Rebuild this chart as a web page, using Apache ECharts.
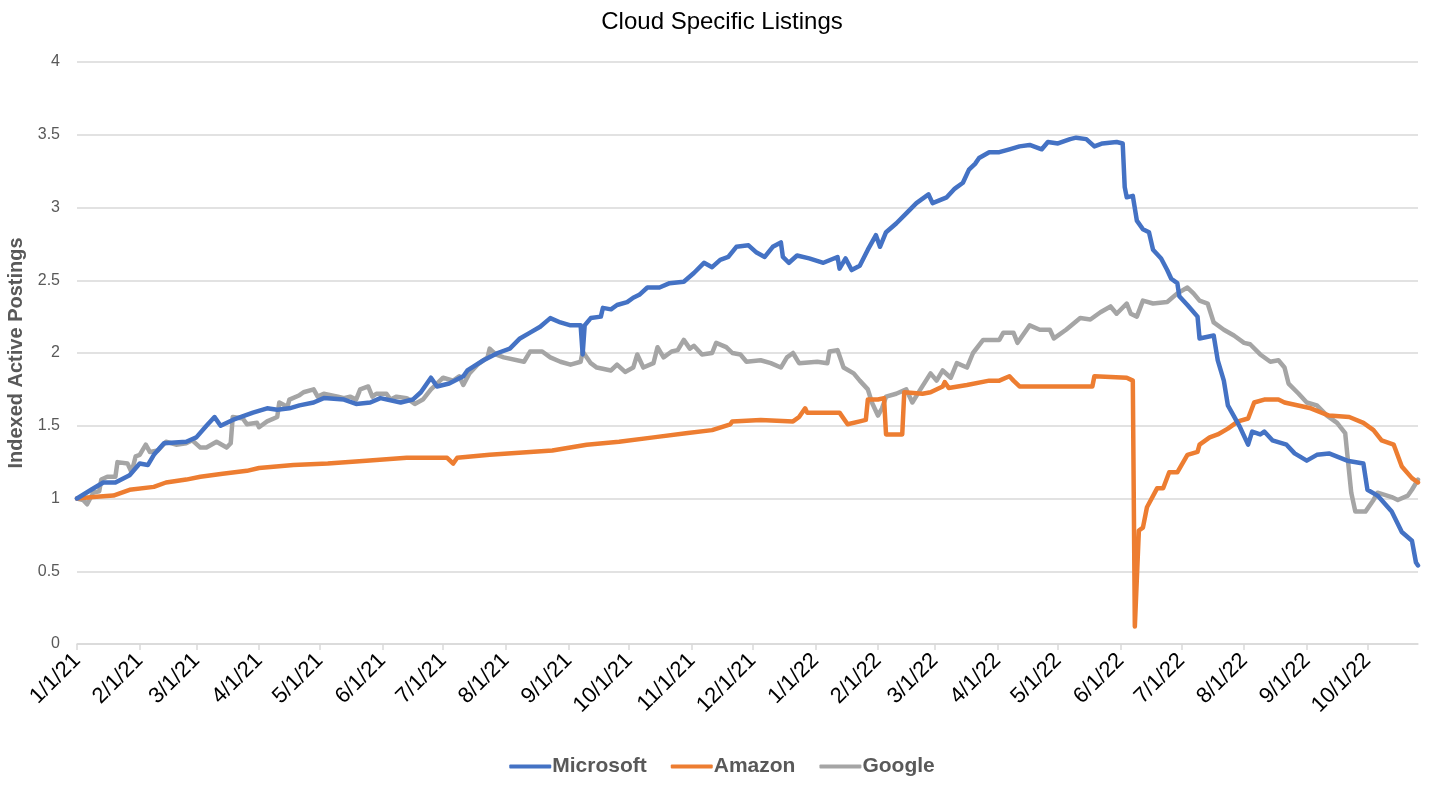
<!DOCTYPE html>
<html>
<head>
<meta charset="utf-8">
<script src="https://cdn.jsdelivr.net/npm/echarts@6/dist/echarts.min.js"></script>
<style>
html,body{margin:0;padding:0;background:#fff;}
#chart{width:1444px;height:788px;}
</style>
</head>
<body>
<div id="chart"></div>
<script>
// ---- Data ----
const firstDay = '2021-01-01';
const lastDay = '2022-10-26';
const seriesNames = ['Microsoft', 'Amazon', 'Google'];
const yTicks = [0, 0.5, 1, 1.5, 2, 2.5, 3, 3.5, 4];

const msDates = ['2021-01-01','2021-01-08','2021-01-14','2021-01-20','2021-01-27','2021-02-01','2021-02-05','2021-02-08','2021-02-13','2021-02-24','2021-03-01','2021-03-06','2021-03-10','2021-03-13','2021-03-19','2021-03-29','2021-04-05','2021-04-10','2021-04-16','2021-04-21','2021-04-28','2021-05-03','2021-05-13','2021-05-19','2021-05-26','2021-05-31','2021-06-10','2021-06-16','2021-06-20','2021-06-25','2021-06-28','2021-07-04','2021-07-11','2021-07-13','2021-07-21','2021-07-28','2021-08-03','2021-08-08','2021-08-13','2021-08-18','2021-08-23','2021-08-28','2021-09-02','2021-09-07','2021-09-08','2021-09-09','2021-09-12','2021-09-17','2021-09-18','2021-09-22','2021-09-25','2021-09-30','2021-10-03','2021-10-06','2021-10-10','2021-10-16','2021-10-21','2021-10-28','2021-11-02','2021-11-07','2021-11-11','2021-11-15','2021-11-19','2021-11-23','2021-11-29','2021-12-03','2021-12-07','2021-12-11','2021-12-15','2021-12-16','2021-12-19','2021-12-23','2021-12-29','2022-01-05','2022-01-12','2022-01-13','2022-01-16','2022-01-19','2022-01-23','2022-01-27','2022-01-31','2022-02-02','2022-02-05','2022-02-10','2022-02-15','2022-02-20','2022-02-26','2022-02-28','2022-03-07','2022-03-11','2022-03-15','2022-03-18','2022-03-21','2022-03-23','2022-03-28','2022-04-02','2022-04-07','2022-04-12','2022-04-17','2022-04-23','2022-04-26','2022-05-01','2022-05-07','2022-05-10','2022-05-15','2022-05-19','2022-05-23','2022-05-30','2022-06-02','2022-06-03','2022-06-04','2022-06-07','2022-06-09','2022-06-12','2022-06-15','2022-06-17','2022-06-21','2022-06-24','2022-06-26','2022-06-29','2022-06-30','2022-07-04','2022-07-09','2022-07-10','2022-07-17','2022-07-19','2022-07-22','2022-07-24','2022-07-30','2022-08-03','2022-08-05','2022-08-09','2022-08-11','2022-08-15','2022-08-22','2022-08-26','2022-09-01','2022-09-06','2022-09-12','2022-09-21','2022-09-29','2022-10-01','2022-10-06','2022-10-13','2022-10-18','2022-10-23','2022-10-25','2022-10-26'];
const msValues = [1.00,1.06,1.11,1.11,1.16,1.24,1.23,1.30,1.38,1.39,1.42,1.50,1.56,1.50,1.54,1.59,1.62,1.61,1.62,1.64,1.66,1.69,1.68,1.65,1.66,1.69,1.66,1.68,1.73,1.83,1.77,1.79,1.84,1.88,1.95,2.00,2.03,2.10,2.14,2.18,2.24,2.21,2.19,2.19,1.99,2.19,2.24,2.25,2.31,2.30,2.33,2.35,2.38,2.40,2.45,2.45,2.48,2.49,2.55,2.62,2.59,2.64,2.66,2.73,2.74,2.69,2.66,2.73,2.76,2.66,2.62,2.67,2.65,2.62,2.66,2.58,2.65,2.57,2.60,2.71,2.81,2.73,2.83,2.89,2.96,3.03,3.09,3.03,3.07,3.13,3.17,3.26,3.30,3.34,3.38,3.38,3.40,3.42,3.43,3.40,3.45,3.44,3.47,3.48,3.47,3.42,3.44,3.45,3.44,3.14,3.07,3.08,2.91,2.85,2.83,2.71,2.65,2.57,2.51,2.48,2.39,2.33,2.25,2.10,2.12,1.95,1.81,1.64,1.49,1.37,1.46,1.44,1.46,1.40,1.37,1.31,1.26,1.30,1.31,1.26,1.24,1.06,1.02,0.91,0.77,0.71,0.56,0.54];

const amDates = ['2021-01-01','2021-01-09','2021-01-19','2021-01-27','2021-02-08','2021-02-14','2021-02-24','2021-03-03','2021-03-14','2021-03-26','2021-04-01','2021-04-18','2021-05-05','2021-05-24','2021-06-13','2021-07-03','2021-07-06','2021-07-08','2021-07-24','2021-08-13','2021-08-24','2021-09-10','2021-09-26','2021-10-13','2021-10-30','2021-11-11','2021-11-20','2021-11-21','2021-12-05','2021-12-21','2021-12-24','2021-12-27','2021-12-28','2022-01-13','2022-01-17','2022-01-23','2022-01-26','2022-01-27','2022-02-01','2022-02-04','2022-02-05','2022-02-13','2022-02-14','2022-02-23','2022-02-27','2022-03-05','2022-03-06','2022-03-08','2022-03-17','2022-03-28','2022-04-02','2022-04-07','2022-04-09','2022-04-12','2022-05-18','2022-05-19','2022-06-04','2022-06-07','2022-06-08','2022-06-10','2022-06-12','2022-06-14','2022-06-19','2022-06-22','2022-06-25','2022-06-29','2022-07-04','2022-07-09','2022-07-10','2022-07-15','2022-07-19','2022-07-24','2022-07-29','2022-08-03','2022-08-06','2022-08-11','2022-08-18','2022-08-21','2022-09-03','2022-09-12','2022-09-22','2022-09-29','2022-10-04','2022-10-08','2022-10-14','2022-10-18','2022-10-23','2022-10-26'];
const amValues = [1.00,1.01,1.02,1.06,1.08,1.11,1.13,1.15,1.17,1.19,1.21,1.23,1.24,1.26,1.28,1.28,1.24,1.28,1.30,1.32,1.33,1.37,1.39,1.42,1.45,1.47,1.51,1.53,1.54,1.53,1.56,1.62,1.59,1.59,1.51,1.53,1.54,1.68,1.68,1.69,1.44,1.44,1.73,1.72,1.73,1.77,1.80,1.76,1.78,1.81,1.81,1.84,1.81,1.77,1.77,1.84,1.83,1.81,0.12,0.78,0.80,0.94,1.07,1.07,1.18,1.18,1.30,1.32,1.37,1.42,1.44,1.48,1.53,1.55,1.66,1.68,1.68,1.66,1.62,1.57,1.56,1.52,1.47,1.40,1.37,1.22,1.14,1.11];

const goDates = ['2021-01-01','2021-01-04','2021-01-06','2021-01-09','2021-01-12','2021-01-13','2021-01-16','2021-01-20','2021-01-21','2021-01-26','2021-01-28','2021-01-30','2021-02-01','2021-02-04','2021-02-06','2021-02-10','2021-02-14','2021-02-19','2021-02-24','2021-02-27','2021-03-03','2021-03-06','2021-03-11','2021-03-16','2021-03-18','2021-03-19','2021-03-24','2021-03-26','2021-03-31','2021-04-01','2021-04-05','2021-04-10','2021-04-11','2021-04-15','2021-04-16','2021-04-21','2021-04-23','2021-04-28','2021-04-30','2021-05-03','2021-05-10','2021-05-13','2021-05-16','2021-05-19','2021-05-21','2021-05-25','2021-05-27','2021-05-29','2021-06-03','2021-06-05','2021-06-08','2021-06-13','2021-06-17','2021-06-21','2021-06-25','2021-06-28','2021-07-01','2021-07-06','2021-07-09','2021-07-11','2021-07-14','2021-07-18','2021-07-23','2021-07-24','2021-07-27','2021-07-31','2021-08-10','2021-08-13','2021-08-19','2021-08-23','2021-08-28','2021-09-02','2021-09-07','2021-09-08','2021-09-12','2021-09-15','2021-09-22','2021-09-25','2021-09-29','2021-10-03','2021-10-05','2021-10-08','2021-10-13','2021-10-15','2021-10-18','2021-10-22','2021-10-25','2021-10-28','2021-10-31','2021-11-02','2021-11-06','2021-11-11','2021-11-13','2021-11-18','2021-11-21','2021-11-25','2021-11-28','2021-12-05','2021-12-10','2021-12-15','2021-12-18','2021-12-21','2021-12-24','2022-01-02','2022-01-07','2022-01-08','2022-01-12','2022-01-15','2022-01-20','2022-01-23','2022-01-27','2022-01-29','2022-02-01','2022-02-03','2022-02-05','2022-02-10','2022-02-15','2022-02-18','2022-02-22','2022-02-27','2022-03-02','2022-03-05','2022-03-09','2022-03-12','2022-03-17','2022-03-20','2022-03-25','2022-04-02','2022-04-04','2022-04-09','2022-04-11','2022-04-17','2022-04-22','2022-04-27','2022-04-29','2022-05-05','2022-05-12','2022-05-17','2022-05-22','2022-05-27','2022-05-30','2022-06-04','2022-06-06','2022-06-09','2022-06-12','2022-06-17','2022-06-24','2022-06-29','2022-07-04','2022-07-07','2022-07-10','2022-07-14','2022-07-17','2022-07-22','2022-07-27','2022-08-01','2022-08-04','2022-08-09','2022-08-14','2022-08-18','2022-08-21','2022-08-23','2022-08-28','2022-09-01','2022-09-06','2022-09-11','2022-09-16','2022-09-20','2022-09-21','2022-09-23','2022-09-25','2022-09-30','2022-10-04','2022-10-06','2022-10-13','2022-10-16','2022-10-21','2022-10-23','2022-10-26'];
const goValues = [1.00,0.99,0.96,1.04,1.05,1.13,1.15,1.15,1.25,1.24,1.18,1.29,1.30,1.37,1.32,1.33,1.39,1.37,1.38,1.40,1.35,1.35,1.39,1.35,1.38,1.56,1.55,1.51,1.52,1.49,1.53,1.56,1.66,1.63,1.68,1.71,1.73,1.75,1.70,1.72,1.70,1.69,1.70,1.68,1.75,1.77,1.70,1.72,1.72,1.68,1.70,1.69,1.65,1.68,1.75,1.79,1.83,1.81,1.84,1.78,1.86,1.92,1.97,2.03,1.99,1.97,1.94,2.01,2.01,1.97,1.94,1.92,1.94,2.01,1.93,1.90,1.88,1.92,1.87,1.90,1.99,1.90,1.93,2.04,1.97,2.01,2.02,2.09,2.03,2.05,1.99,2.00,2.07,2.04,2.00,1.99,1.94,1.95,1.93,1.90,1.97,2.00,1.93,1.94,1.93,2.01,2.02,1.90,1.86,1.81,1.75,1.66,1.57,1.62,1.70,1.72,1.75,1.66,1.75,1.86,1.81,1.88,1.83,1.93,1.90,2.00,2.09,2.09,2.14,2.14,2.07,2.19,2.16,2.16,2.10,2.16,2.24,2.23,2.28,2.32,2.27,2.34,2.27,2.25,2.36,2.34,2.35,2.41,2.45,2.41,2.36,2.34,2.21,2.16,2.12,2.07,2.06,1.99,1.94,1.95,1.90,1.79,1.72,1.66,1.64,1.57,1.52,1.45,1.31,1.04,0.91,0.91,0.99,1.04,1.01,0.99,1.02,1.06,1.13];

// ---- Build daily category axis ----
function ymd(t) {
  const d = new Date(t);
  const m = d.getUTCMonth() + 1, day = d.getUTCDate();
  return d.getUTCFullYear() + '-' + (m < 10 ? '0' : '') + m + '-' + (day < 10 ? '0' : '') + day;
}
const days = [];
{
  const [y0, m0, d0] = firstDay.split('-').map(Number);
  const [y1, m1, d1] = lastDay.split('-').map(Number);
  let t = Date.UTC(y0, m0 - 1, d0);
  const end = Date.UTC(y1, m1 - 1, d1);
  while (t <= end) { days.push(ymd(t)); t += 86400000; }
}
const pair = (ds, vs) => ds.map((d, i) => [d, vs[i]]);
const isMonthStart = (idx, val) => val.slice(8) === '01';

const chart = echarts.init(document.getElementById('chart'));
const colors = ['#4472C4', '#ED7D31', '#A5A5A5'];
const allSeries = [pair(msDates, msValues), pair(amDates, amValues), pair(goDates, goValues)];

chart.setOption({
  animation: false,
  color: colors,
  title: {
    text: 'Cloud Specific Listings',
    left: 'center',
    top: 5,
    textStyle: { fontFamily: 'Liberation Sans', fontSize: 24, fontWeight: 'normal', color: '#000' }
  },
  legend: {
    bottom: 6,
    left: 'center',
    itemWidth: 42,
    itemHeight: 4,
    itemGap: 24,
    icon: 'roundRect',
    data: seriesNames,
    textStyle: { fontFamily: 'Liberation Sans', fontSize: 21, fontWeight: 'bold', color: '#595959', padding: [0, 0, 0, -4] }
  },
  grid: { left: 77, right: 26, top: 62, bottom: 144, containLabel: false, outerBoundsMode: 'none' },
  xAxis: {
    type: 'category',
    data: days,
    boundaryGap: false,
    axisLine: { lineStyle: { color: '#d9d9d9', width: 1.5 } },
    axisTick: { show: true, interval: isMonthStart, length: 6, lineStyle: { color: '#d9d9d9', width: 1.5 } },
    splitLine: { show: false },
    axisLabel: {
      interval: isMonthStart,
      rotate: 45,
      margin: 13,
      fontFamily: 'Liberation Sans',
      fontSize: 22,
      color: '#000',
      formatter: v => {
        const p = v.split('-');
        return Number(p[1]) + '/' + Number(p[2]) + '/' + p[0].slice(2);
      }
    }
  },
  yAxis: {
    type: 'value',
    min: yTicks[0],
    max: yTicks[yTicks.length - 1],
    interval: yTicks[1] - yTicks[0],
    name: 'Indexed Active Postings',
    nameLocation: 'middle',
    nameGap: 50,
    nameTextStyle: { fontFamily: 'Liberation Sans', fontSize: 20, fontWeight: 'bold', color: '#595959' },
    axisLine: { show: false },
    axisTick: { show: false },
    splitLine: { lineStyle: { color: '#d9d9d9', width: 1.5 } },
    axisLabel: { fontFamily: 'Liberation Sans', fontSize: 16, color: '#595959', margin: 17 }
  },
  series: seriesNames.map((n, i) => ({
    name: n,
    type: 'line',
    data: allSeries[i],
    showSymbol: false,
    symbol: 'none',
    lineStyle: { width: 4.5, color: colors[i], cap: 'round', join: 'round' },
    z: 3 - i
  }))
});
</script>
</body>
</html>
